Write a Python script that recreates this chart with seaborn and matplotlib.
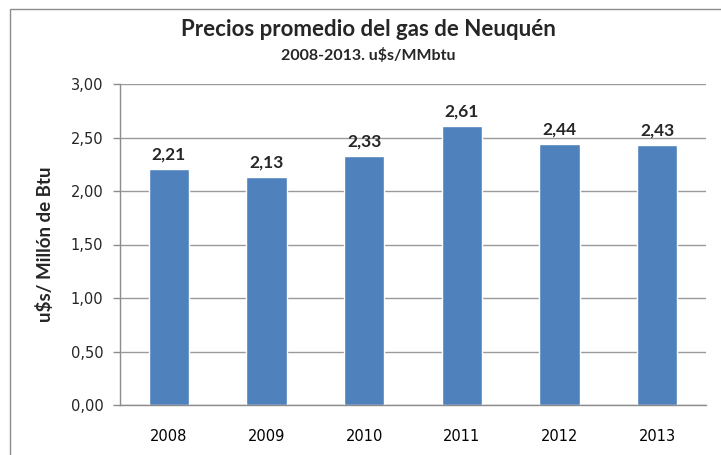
import matplotlib
matplotlib.use("Agg")
import matplotlib.pyplot as plt
import matplotlib.ticker as mticker
from matplotlib.patches import Rectangle
import pandas as pd
import seaborn as sns

# data
years = ["2008", "2009", "2010", "2011", "2012", "2013"]
prices = [2.21, 2.13, 2.33, 2.61, 2.44, 2.43]

df = pd.DataFrame({"Year": years, "Price": prices})

sns.set_style("white")
plt.rcParams["font.family"] = ["DejaVu Sans"]

fig = plt.figure(figsize=(7.21, 4.55), dpi=100)
ax = fig.add_axes([120 / 721, 50 / 455, 586 / 721, 321 / 455])

sns.barplot(data=df, x="Year", y="Price", color="#4F81BD", width=0.41,
            saturation=1, ax=ax)

ax.set_ylim(0, 3)
ax.set_xlim(-0.5, 5.5)
ax.yaxis.set_major_locator(mticker.MultipleLocator(0.5))
ax.yaxis.set_major_formatter(mticker.FuncFormatter(lambda v, p: f"{v:.2f}".replace(".", ",")))
ax.yaxis.grid(True, color="#9a9a9a", lw=1)
ax.set_axisbelow(True)

# category ticks sit between the bars
ax.set_xticks([i - 0.5 for i in range(len(years) + 1)], minor=True)
ax.tick_params(axis="x", which="major", length=0, pad=17, labelsize=10.5, colors="#000000")
ax.tick_params(axis="x", which="minor", length=5, color="#8c8c8c", width=1)
ax.tick_params(axis="y", which="major", left=True, length=5, color="#8c8c8c", width=1,
               pad=7, labelsize=10.5)

for s in ["top", "right"]:
    ax.spines[s].set_visible(False)
for s in ["left", "bottom"]:
    ax.spines[s].set_color("#8c8c8c")
    ax.spines[s].set_linewidth(1)

ax.set_xlabel("")
ax.set_ylabel("u$s/ Millón de Btu", fontsize=13.5, fontweight="bold",
              family=["Lato", "DejaVu Sans"], labelpad=12)

for i, v in enumerate(prices):
    ax.text(i, v + 0.06, f"{v:.2f}".replace(".", ","), ha="center", va="bottom",
            fontsize=12.5, fontweight="bold", family=["Lato", "DejaVu Sans"])

fig.text(368 / 721, 1 - 30 / 455, "Precios promedio del gas de Neuquén", ha="center",
         va="center", fontsize=16, fontweight="bold", family=["Lato", "DejaVu Sans"])
fig.text(368 / 721, 1 - 55 / 455, "2008-2013. u$s/MMbtu", ha="center", va="center",
         fontsize=11.5, fontweight="bold", family=["Lato", "DejaVu Sans"])

# outer chart frame (runs off the right and bottom edge)
fig.patches.append(Rectangle((10 / 721, -0.1), 1.2, 1 - 9 / 455 + 0.1,
                             transform=fig.transFigure, fill=False,
                             edgecolor="#8c8c8c", lw=1))

fig.savefig("out.png", dpi=100)
